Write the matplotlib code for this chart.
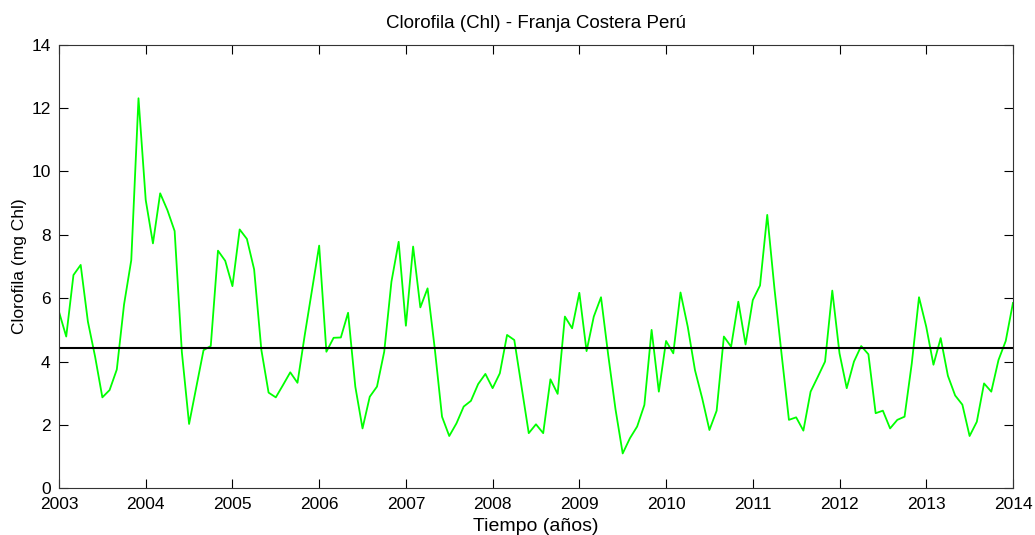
import numpy as np
import matplotlib
matplotlib.use('Agg')
import matplotlib.pyplot as plt

plt.rcParams['font.family'] = ['Liberation Sans', 'DejaVu Sans']

# Monthly chlorophyll values, Jan 2003 .. Jan 2014
clorofila = [
    5.57, 4.79, 6.73, 7.05, 5.26, 4.15, 2.87, 3.10, 3.75, 5.80, 7.20, 12.31,
    9.10, 7.73, 9.31, 8.78, 8.12, 4.30, 2.03, 3.20, 4.36, 4.49, 7.50, 7.18,
    6.38, 8.17, 7.87, 6.91, 4.37, 3.02, 2.87, 3.26, 3.66, 3.33, 4.83, 6.24,
    7.66, 4.31, 4.75, 4.76, 5.54, 3.21, 1.89, 2.89, 3.21, 4.31, 6.52, 7.78,
    5.13, 7.63, 5.71, 6.31, 4.40, 2.26, 1.65, 2.05, 2.58, 2.76, 3.29, 3.61,
    3.16, 3.63, 4.84, 4.68, 3.21, 1.74, 2.02, 1.74, 3.44, 2.98, 5.42, 5.05,
    6.17, 4.33, 5.42, 6.03, 4.20, 2.50, 1.10, 1.58, 1.95, 2.63, 5.00, 3.05,
    4.65, 4.26, 6.18, 5.10, 3.73, 2.84, 1.84, 2.45, 4.79, 4.47, 5.89, 4.54,
    5.94, 6.40, 8.63, 6.30, 4.20, 2.16, 2.24, 1.82, 3.05, 3.52, 4.00, 6.24,
    4.26, 3.16, 4.00, 4.49, 4.23, 2.37, 2.45, 1.89, 2.16, 2.26, 3.94, 6.03,
    5.10, 3.90, 4.74, 3.55, 2.93, 2.64, 1.65, 2.10, 3.31, 3.05, 4.05, 4.65,
    5.85,
]
anio_inicio = 2003
anios = list(range(2003, 2015))
y_ticks = [0, 2, 4, 6, 8, 10, 12, 14]

tiempo = anio_inicio + np.arange(len(clorofila)) / 12.0
media = np.mean(clorofila)

fig = plt.figure(figsize=(10.35, 5.35), dpi=100)
ax = fig.add_axes([0.057, 0.0873, 0.9217, 0.8291])

ax.plot(tiempo, clorofila, color='#00ff00', linewidth=1.3)
ax.plot([anios[0], anios[-1]], [media, media], color='black', linewidth=1.5)

ax.set_xlim(anios[0], anios[-1])
ax.set_ylim(y_ticks[0], y_ticks[-1])
ax.set_xticks(anios)
ax.set_yticks(y_ticks)
ax.tick_params(direction='in', length=6.5, width=0.8, top=True, right=True,
               labelsize=12.5, pad=6, colors='black')
for s in ax.spines.values():
    s.set_color('#333333')
    s.set_linewidth(0.8)

ax.set_title('Clorofila (Chl) - Franja Costera Perú', fontsize=13.5, pad=12)
ax.set_xlabel('Tiempo (años)', fontsize=14, labelpad=4.5)
ax.set_ylabel('Clorofila (mg Chl)', fontsize=12.5, labelpad=3)

fig.savefig('out.png', dpi=100)
